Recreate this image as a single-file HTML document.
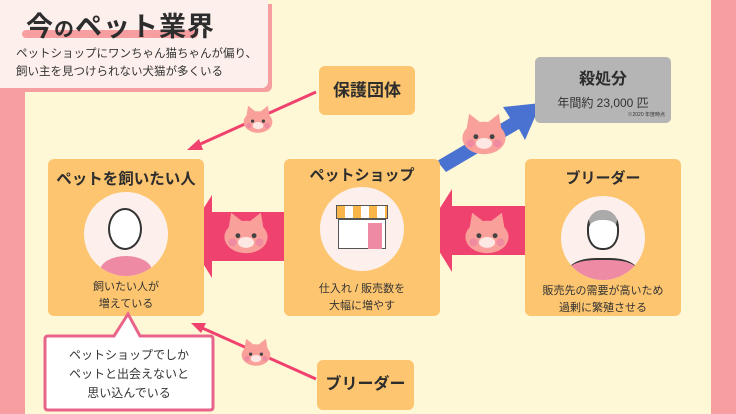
<!DOCTYPE html>
<html><head><meta charset="utf-8"><style>
*{margin:0;padding:0;box-sizing:border-box}
body{width:736px;height:414px;overflow:hidden;background:#fff8d6;position:relative;font-family:"Liberation Sans","Noto Sans CJK JP",sans-serif;color:#333}
.a{position:absolute}
.card{position:absolute;background:#fdc56f;border-radius:6px}
.h{font-weight:bold;text-align:center;color:#2d2d2d}
.t{font-size:11px;text-align:center;line-height:17px;color:#333}
.circ{position:absolute;width:84px;height:84px;border-radius:50%;background:#fdf0ec;left:36px;top:27px;overflow:hidden}
</style></head><body>
<div class="a" style="left:0;top:80px;width:25px;height:334px;background:#f69ea0"></div>
<div class="a" style="left:711px;top:0;width:25px;height:414px;background:#f69ea0"></div>
<div class="a" style="left:0;top:0;width:268px;height:88px;background:#fdf0ec;border-radius:0 0 6px 0;box-shadow:4px 4px 0 #f69ea0"></div>
<div class="a" style="left:22px;top:30px;width:176px;height:8px;background:#f69ea0;border-radius:4px"></div>
<div class="a h" style="left:26px;top:5px;font-size:27px;letter-spacing:1px;text-align:left">今<span style="font-size:20px">の</span>ペット業界</div>
<div class="a" style="left:16px;top:45px;font-size:11.5px;line-height:18px;color:#333">ペットショップにワンちゃん猫ちゃんが偏り、<br>飼い主を見つけられない犬猫が多くいる</div>

<svg class="a" style="left:0;top:0" width="736" height="414">
<defs><g id="cat"><polygon points="-13,-6 -11,-18 -2,-11" fill="#f9a09a"/><polygon points="13,-6 11,-18 2,-11" fill="#f9a09a"/><ellipse cx="0" cy="0" rx="16" ry="12" fill="#f9a09a"/><ellipse cx="0" cy="4" rx="6" ry="4" fill="#fde8e4"/><circle cx="-6" cy="-1" r="1.8" fill="#444"/><circle cx="6" cy="-1" r="1.8" fill="#444"/><circle cx="-10" cy="4" r="3" fill="#f08aa0"/><circle cx="10" cy="4" r="3" fill="#f08aa0"/></g></defs>
<g stroke="#f0426e" stroke-width="3" fill="#f0426e">
<line x1="316" y1="92" x2="196" y2="146"/><polygon points="187,150 199,139 203,150" stroke="none"/>
<line x1="316" y1="379" x2="200" y2="327"/><polygon points="191,323 206,323 201,333" stroke="none"/>
</g>
<polygon points="186,236 212,195 212,212 293,212 293,261 212,261 212,278" fill="#f0426e"/>
<polygon points="426,230 452,189 452,206 534,206 534,255 452,255 452,272" fill="#f0426e"/>
<polygon points="437,161 510,118 503,107 541,103 525,140 519,129 446,172" fill="#4a72d0"/>
<use href="#cat" transform="translate(258,122) scale(0.9)"/>
<use href="#cat" transform="translate(256,355) scale(0.9)"/>
<use href="#cat" transform="translate(246,237) scale(1.35)"/>
<use href="#cat" transform="translate(487,237) scale(1.35)"/>
<use href="#cat" transform="translate(484,138) scale(1.35)"/>
</svg>

<div class="card" style="left:319px;top:66px;width:96px;height:49px"><div class="h" style="font-size:17px;line-height:49px">保護団体</div></div>
<div class="a" style="left:535px;top:57px;width:136px;height:66px;background:#b5b5b5;border-radius:5px">
<div class="h" style="font-size:16px;margin-top:8px">殺処分</div>
<div style="font-size:12px;text-align:center;margin-top:5px;color:#333">年間約 23,000 匹</div>
<div style="font-size:5px;text-align:right;margin-right:6px;color:#333">※2020 年度時点</div></div>

<div class="card" style="left:48px;top:159px;width:156px;height:157px">
<div class="h" style="font-size:15.5px;margin-top:8px">ペットを飼いたい人</div>
<div class="circ" style="top:33px"><div class="a" style="left:16px;top:64px;width:52px;height:30px;background:#ee8aa4;border-radius:50% 50% 0 0"></div><div class="a" style="left:24px;top:16px;width:34px;height:42px;border:2px solid #333;border-radius:50%;background:#fff"></div></div>
<div class="t" style="position:absolute;top:120px;width:100%">飼いたい人が<br>増えている</div></div>

<div class="card" style="left:284px;top:159px;width:156px;height:157px">
<div class="h" style="font-size:15px;margin-top:5px">ペットショップ</div>
<div class="circ" style="top:28px"><div class="a" style="left:16px;top:18px;width:52px;height:14px;background:repeating-linear-gradient(90deg,#f9b54a 0 8px,#fff 8px 16px);border:1px solid #555"></div><div class="a" style="left:18px;top:32px;width:48px;height:30px;background:#fff;border:1px solid #555"></div><div class="a" style="left:48px;top:36px;width:14px;height:26px;background:#ee8aa4"></div></div>
<div class="t" style="position:absolute;top:122px;width:100%">仕入れ / 販売数を<br>大幅に増やす</div></div>

<div class="card" style="left:525px;top:159px;width:156px;height:157px">
<div class="h" style="font-size:15px;margin-top:8px">ブリーダー</div>
<div class="circ" style="top:37px"><div class="a" style="left:8px;top:62px;width:68px;height:30px;background:#ee8aa4;border-radius:40% 40% 0 0;border-top:2px solid #333"></div><div class="a" style="left:26px;top:14px;width:32px;height:40px;border:2px solid #333;border-radius:45%;background:#fff;border-top:10px solid #aaa"></div></div>
<div class="t" style="position:absolute;top:124px;width:100%">販売先の需要が高いため<br>過剰に繁殖させる</div></div>

<div class="card" style="left:317px;top:360px;width:97px;height:50px"><div class="h" style="font-size:16px;line-height:50px">ブリーダー</div></div>

<svg class="a" style="left:40px;top:308px" width="180" height="106"><path d="M8,28 H74 L88,6 L100,28 H170 Q173,28 173,31 V99 Q173,102 170,102 H8 Q5,102 5,99 V31 Q5,28 8,28 Z" fill="#fff" stroke="#e8648a" stroke-width="3"/></svg>
<div class="a" style="left:45px;top:346px;width:168px;text-align:center;font-size:12px;line-height:19px;color:#333">ペットショップでしか<br>ペットと出会えないと<br>思い込んでいる</div>
</body></html>
